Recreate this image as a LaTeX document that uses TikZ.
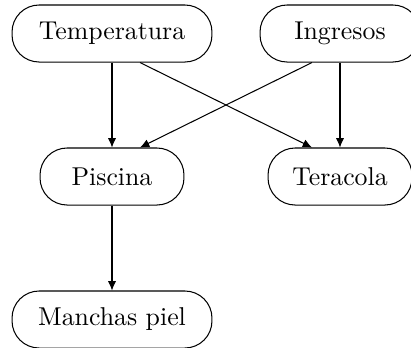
\documentclass[tikz,border=0pt]{standalone}
\usetikzlibrary{arrows.meta,calc}
\begin{document}
\begin{tikzpicture}[x=0.3876pt,y=-0.3876pt,
  varbox/.style={draw,rounded corners=10.5pt,minimum height=22.1pt,inner sep=0pt,font=\normalsize},
  causes/.style={-{Latex[length=3.6pt,width=3.2pt]},line width=0.4pt}]
  \useasboundingbox (0,0) rectangle (411,347);
  \clip (0,0) rectangle (411,347);
  \node[varbox,minimum width=77.5pt] (temp) at (112,33.5) {Temperatura};
  \node[varbox,minimum width=62pt]   (ingr) at (340,33.5) {Ingresos};
  \node[varbox,minimum width=55.8pt] (pisc) at (112,176.5) {Piscina};
  \node[varbox,minimum width=55.8pt] (tera) at (340,176.5) {Teracola};
  \node[varbox,minimum width=77.5pt] (manc) at (112,319.5) {Manchas piel};
  \draw[causes] (temp) -- (pisc);
  \draw[causes] (ingr) -- (tera);
  \draw[causes] (pisc) -- (manc);
  \draw[causes] ($(temp.south)+(28,0)$) -- ($(tera.north)+(-28,0)$);
  \draw[causes] ($(ingr.south)+(-28,0)$) -- ($(pisc.north)+(28,0)$);
\end{tikzpicture}
\end{document}
